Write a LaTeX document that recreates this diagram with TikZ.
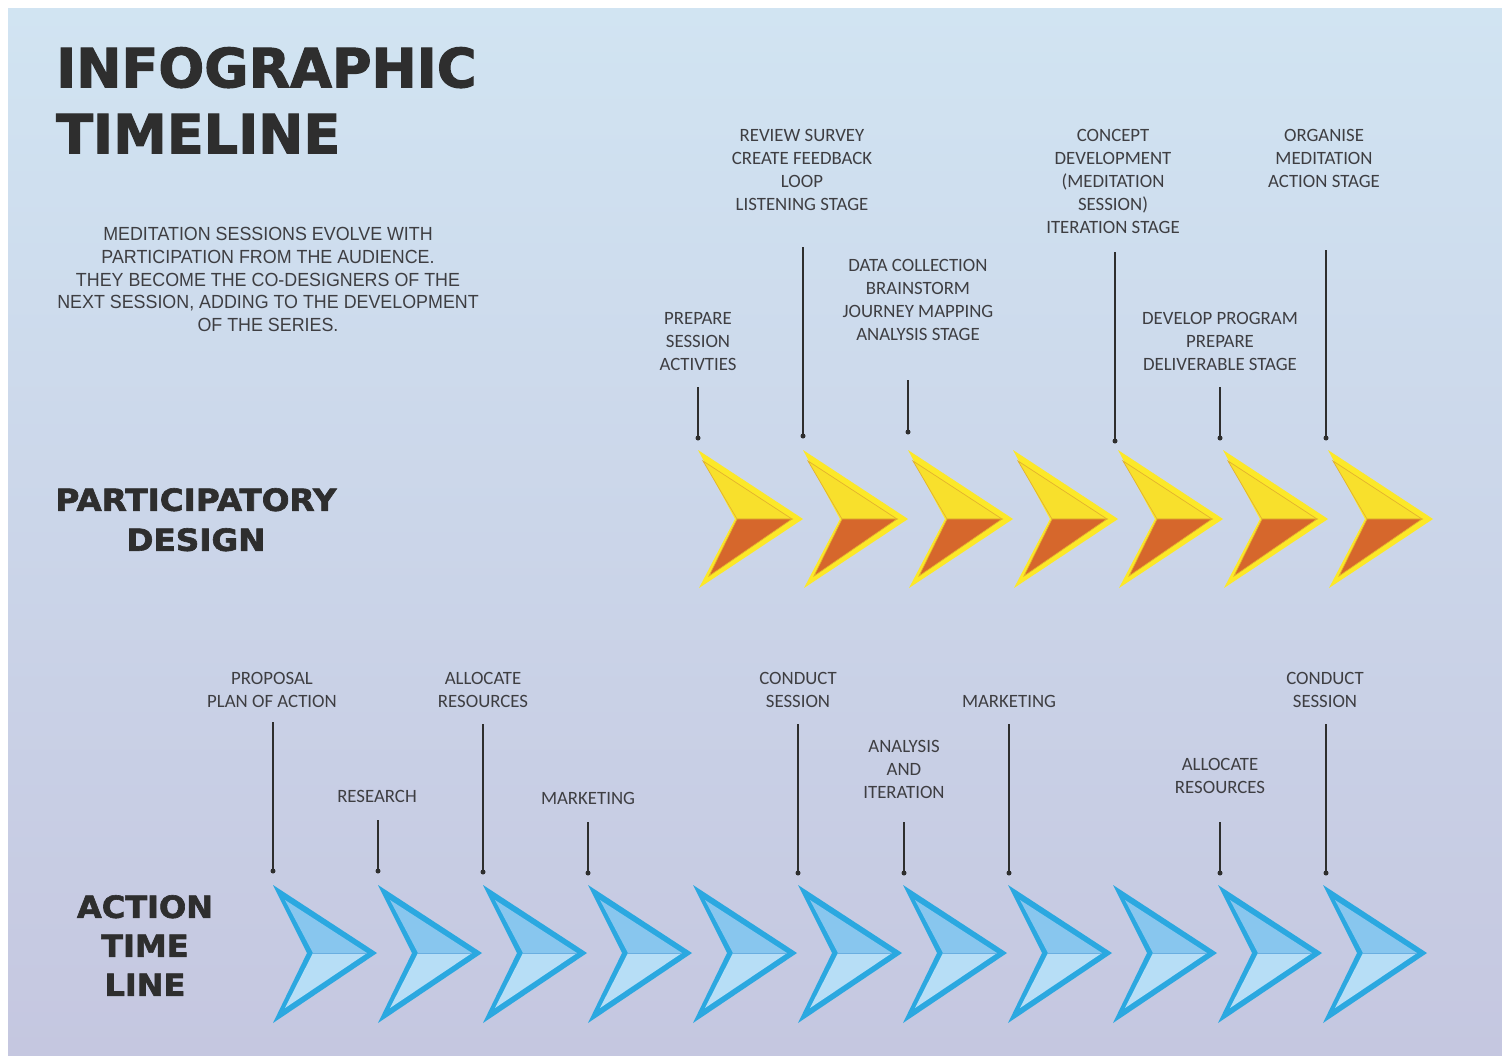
\documentclass[tikz,border=0pt]{standalone}
\usepackage{fontspec}
\setmainfont{Carlito}
\newfontfamily\heavyfont{DejaVu Sans}[BoldFeatures={FakeBold=2}]
\newfontfamily\descfont{Liberation Sans}
\definecolor{bgtop}{HTML}{D1E4F2}
\definecolor{bgbot}{HTML}{C5C7E0}
\definecolor{ink}{HTML}{2E2E2E}
\definecolor{lblink}{HTML}{3E3E42}
\definecolor{yelout}{HTML}{FCE828}
\definecolor{yelin}{HTML}{F8E02C}
\definecolor{yeledge}{HTML}{E3B22E}
\definecolor{orng}{HTML}{D6672C}
\definecolor{bluout}{HTML}{2BA8E0}
\definecolor{bluup}{HTML}{88C6EE}
\definecolor{bludn}{HTML}{B7DEF6}
\definecolor{bluedge}{HTML}{6AAEE0}
\tikzset{
  heading/.style={inner sep=0pt, text=ink, font=\heavyfont\bfseries},
  lbl/.style={inner sep=0pt, anchor=north, align=center, text=lblink,
              font=\fontsize{18.8}{23}\selectfont},
  conn/.style={draw=ink, line width=2.4pt},
}
% yellow chevron with its left edge at x = #1
\newcommand\ychev[1]{%
  \begin{scope}[shift={(#1,0)}]
    \fill[yelout] (0,450) -- (105,519) -- (1,588) -- (37,519) -- cycle;
    \filldraw[fill=yelin, draw=yeledge, line width=0.7pt]
      (5,461) -- (94,519) -- (39,519) -- cycle;
    \filldraw[fill=orng, draw=yeledge, line width=0.7pt]
      (39,519) -- (94,519) -- (11,576) -- cycle;
  \end{scope}}
% blue chevron with its left edge at x = #1
\newcommand\bchev[1]{%
  \begin{scope}[shift={(#1,0)}]
    \fill[bluout] (0,885) -- (104,953) -- (0,1023) -- (34,953) -- cycle;
    \fill[bluup] (12,900) -- (94,953) -- (40,953) -- cycle;
    \fill[bludn] (40,953) -- (94,953) -- (12,1008) -- cycle;
    \draw[bluedge, line width=0.8pt] (40,953) -- (94,953);
  \end{scope}}
% vertical connector between two named coordinates, with a dot at its foot
\newcommand\pin[2]{%
  \draw[conn] (#1) -- (#2);
  \fill[ink] (#2) circle[radius=2.5pt];}
\begin{document}
\begin{tikzpicture}[x=1pt,y=-1pt]
\useasboundingbox (0,0) rectangle (1502,1055);
\fill[white] (0,0) rectangle (1502,1055);
\shade[top color=bgtop, bottom color=bgbot] (8,8) rectangle (1502,1055);

% titles
\node[heading, anchor=north west, font=\heavyfont\bfseries\fontsize{54}{66}\selectfont, align=left]
  (title) at (56,47) {INFOGRAPHIC\\TIMELINE};
\node[inner sep=0pt, anchor=north, align=center, text=lblink,
      font=\descfont\fontsize{19}{22.8}\selectfont, xscale=0.94, transform shape]
  (desc) at (268,227) {MEDITATION SESSIONS EVOLVE WITH\\PARTICIPATION FROM THE AUDIENCE.\\THEY BECOME THE CO-DESIGNERS OF THE\\NEXT SESSION, ADDING TO THE DEVELOPMENT\\OF THE SERIES.};
\node[heading, anchor=north, align=center, font=\heavyfont\bfseries\fontsize{30.5}{40}\selectfont,
      xscale=1.07, transform shape]
  (pd) at (196,488) {PARTICIPATORY\\DESIGN};
\node[heading, anchor=north, align=center, font=\heavyfont\bfseries\fontsize{30.5}{39}\selectfont,
      xscale=1.05, transform shape]
  (atl) at (145,895) {ACTION\\TIME\\LINE};

% participatory design row
\foreach \x in {698,803,908,1013,1118,1223,1328} {\ychev{\x}}
\node[lbl] (u1) at (698,312) {PREPARE\\SESSION\\ACTIVTIES};
\node[lbl] (u2) at (802,129) {REVIEW SURVEY\\CREATE FEEDBACK\\LOOP\\LISTENING STAGE};
\node[lbl] (u3) at (918,259) {DATA COLLECTION\\BRAINSTORM\\JOURNEY MAPPING\\ANALYSIS STAGE};
\node[lbl] (u4) at (1113,129) {CONCEPT\\DEVELOPMENT\\(MEDITATION\\SESSION)\\ITERATION STAGE};
\node[lbl] (u5) at (1220,312) {DEVELOP PROGRAM\\PREPARE\\DELIVERABLE STAGE};
\node[lbl] (u6) at (1324,129) {ORGANISE\\MEDITATION\\ACTION STAGE};
\coordinate (u1a) at (698,387);  \coordinate (u1b) at (698,438);
\coordinate (u2a) at (803,247);  \coordinate (u2b) at (803,436);
\coordinate (u3a) at (908,380);  \coordinate (u3b) at (908,432);
\coordinate (u4a) at (1115,252); \coordinate (u4b) at (1115,441);
\coordinate (u5a) at (1220,387); \coordinate (u5b) at (1220,438);
\coordinate (u6a) at (1326,250); \coordinate (u6b) at (1326,438);
\foreach \k in {1,...,6} {\pin{u\k a}{u\k b}}

% action time line row
\foreach \x in {273,378,483,588,693,798,903,1008,1113,1218,1323} {\bchev{\x}}
\node[lbl] (d1) at (272,672) {PROPOSAL\\PLAN OF ACTION};
\node[lbl] (d2) at (377,790) {RESEARCH};
\node[lbl] (d3) at (483,672) {ALLOCATE\\RESOURCES};
\node[lbl] (d4) at (588,792) {MARKETING};
\node[lbl] (d5) at (798,672) {CONDUCT\\SESSION};
\node[lbl] (d6) at (904,740) {ANALYSIS\\AND\\ITERATION};
\node[lbl] (d7) at (1009,695) {MARKETING};
\node[lbl] (d8) at (1220,758) {ALLOCATE\\RESOURCES};
\node[lbl] (d9) at (1325,672) {CONDUCT\\SESSION};
\coordinate (d1a) at (273,722);  \coordinate (d1b) at (273,871);
\coordinate (d2a) at (378,820);  \coordinate (d2b) at (378,871);
\coordinate (d3a) at (483,724);  \coordinate (d3b) at (483,872);
\coordinate (d4a) at (588,822);  \coordinate (d4b) at (588,873);
\coordinate (d5a) at (798,724);  \coordinate (d5b) at (798,873);
\coordinate (d6a) at (904,822);  \coordinate (d6b) at (904,873);
\coordinate (d7a) at (1009,724); \coordinate (d7b) at (1009,873);
\coordinate (d8a) at (1220,822); \coordinate (d8b) at (1220,873);
\coordinate (d9a) at (1326,724); \coordinate (d9b) at (1326,873);
\foreach \k in {1,...,9} {\pin{d\k a}{d\k b}}
\end{tikzpicture}
\end{document}
